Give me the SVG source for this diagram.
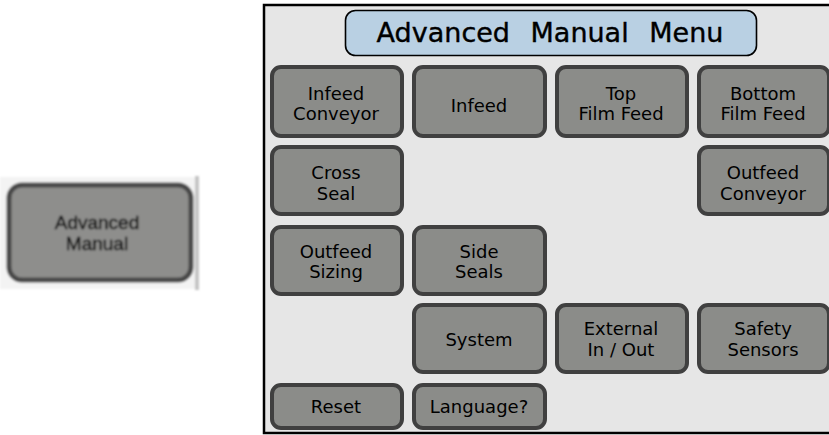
<svg xmlns="http://www.w3.org/2000/svg" width="829" height="435" viewBox="0 0 829 435">
  <defs>
    <filter id="soft" x="-10%" y="-10%" width="120%" height="120%">
      <feGaussianBlur stdDeviation="0.8"/>
    </filter>
    <style>
      .btn rect { fill: #8b8c89; stroke: #404040; stroke-width: 4; }
      .btn text { font-family: "DejaVu Sans", sans-serif; font-size: 18px; fill: #000; text-anchor: middle; }
      .title rect { fill: #b9d0e3; stroke: #000; stroke-width: 1.6; }
      .title text { font-family: "DejaVu Sans", sans-serif; font-size: 27px; fill: #000; stroke: #000; stroke-width: 0.4; text-anchor: middle; word-spacing: 12px; }
    </style>
  </defs>

  <rect width="829" height="435" fill="#ffffff"/>

  <!-- launcher button (soft screenshot) -->
  <g id="launcher" filter="url(#soft)">
    <rect x="0" y="177" width="196" height="112" fill="#f3f3f3"/>
    <rect x="195" y="176" width="4" height="114" fill="#c4c4c4"/>
    <rect x="9" y="185" width="182" height="95" rx="13" fill="#8e8e8c" stroke="#484848" stroke-width="5"/>
    <text x="97" y="229" font-family="Liberation Sans, Arial, sans-serif" font-size="19" fill="#111" stroke="#111" stroke-width="0.5" text-anchor="middle">Advanced</text>
    <text x="97" y="250" font-family="Liberation Sans, Arial, sans-serif" font-size="19" fill="#111" stroke="#111" stroke-width="0.5" text-anchor="middle">Manual</text>
  </g>

  <!-- menu panel -->
  <g id="panel">
    <rect x="264" y="5" width="580" height="428" fill="#e6e6e6" stroke="#000" stroke-width="2.5"/>
  </g>

  <g id="title" class="title">
    <rect x="345.5" y="10.5" width="411" height="45" rx="10"/>
    <text x="550" y="42">Advanced Manual Menu</text>
  </g>

  <!-- row 1 -->
  <g id="infeed-conveyor" class="btn">
    <rect x="272" y="67" width="130" height="69" rx="9"/>
    <text x="336" y="100">Infeed</text>
    <text x="336" y="120">Conveyor</text>
  </g>
  <g id="infeed" class="btn">
    <rect x="414" y="67" width="131" height="69" rx="9"/>
    <text x="479" y="112">Infeed</text>
  </g>
  <g id="top-film-feed" class="btn">
    <rect x="557" y="67" width="130" height="69" rx="9"/>
    <text x="621" y="100">Top</text>
    <text x="621" y="120">Film Feed</text>
  </g>
  <g id="bottom-film-feed" class="btn">
    <rect x="699" y="67" width="130" height="69" rx="9"/>
    <text x="763" y="100">Bottom</text>
    <text x="763" y="120">Film Feed</text>
  </g>

  <!-- row 2 -->
  <g id="cross-seal" class="btn">
    <rect x="272" y="147" width="130" height="67" rx="9"/>
    <text x="336" y="179">Cross</text>
    <text x="336" y="200">Seal</text>
  </g>
  <g id="outfeed-conveyor" class="btn">
    <rect x="699" y="147" width="130" height="67" rx="9"/>
    <text x="763" y="179">Outfeed</text>
    <text x="763" y="200">Conveyor</text>
  </g>

  <!-- row 3 -->
  <g id="outfeed-sizing" class="btn">
    <rect x="272" y="227" width="130" height="67" rx="9"/>
    <text x="336" y="258">Outfeed</text>
    <text x="336" y="278">Sizing</text>
  </g>
  <g id="side-seals" class="btn">
    <rect x="414" y="227" width="131" height="67" rx="9"/>
    <text x="479" y="258">Side</text>
    <text x="479" y="278">Seals</text>
  </g>

  <!-- row 4 -->
  <g id="system" class="btn">
    <rect x="414" y="305" width="131" height="67" rx="9"/>
    <text x="479" y="346">System</text>
  </g>
  <g id="external-io" class="btn">
    <rect x="557" y="305" width="130" height="67" rx="9"/>
    <text x="621" y="335">External</text>
    <text x="621" y="356">In / Out</text>
  </g>
  <g id="safety-sensors" class="btn">
    <rect x="699" y="305" width="130" height="67" rx="9"/>
    <text x="763" y="335">Safety</text>
    <text x="763" y="356">Sensors</text>
  </g>

  <!-- row 5 -->
  <g id="reset" class="btn">
    <rect x="272" y="385" width="130" height="43" rx="9"/>
    <text x="336" y="413">Reset</text>
  </g>
  <g id="language" class="btn">
    <rect x="414" y="385" width="131" height="43" rx="9"/>
    <text x="479" y="413">Language?</text>
  </g>

  <g id="connectors"/>
</svg>
